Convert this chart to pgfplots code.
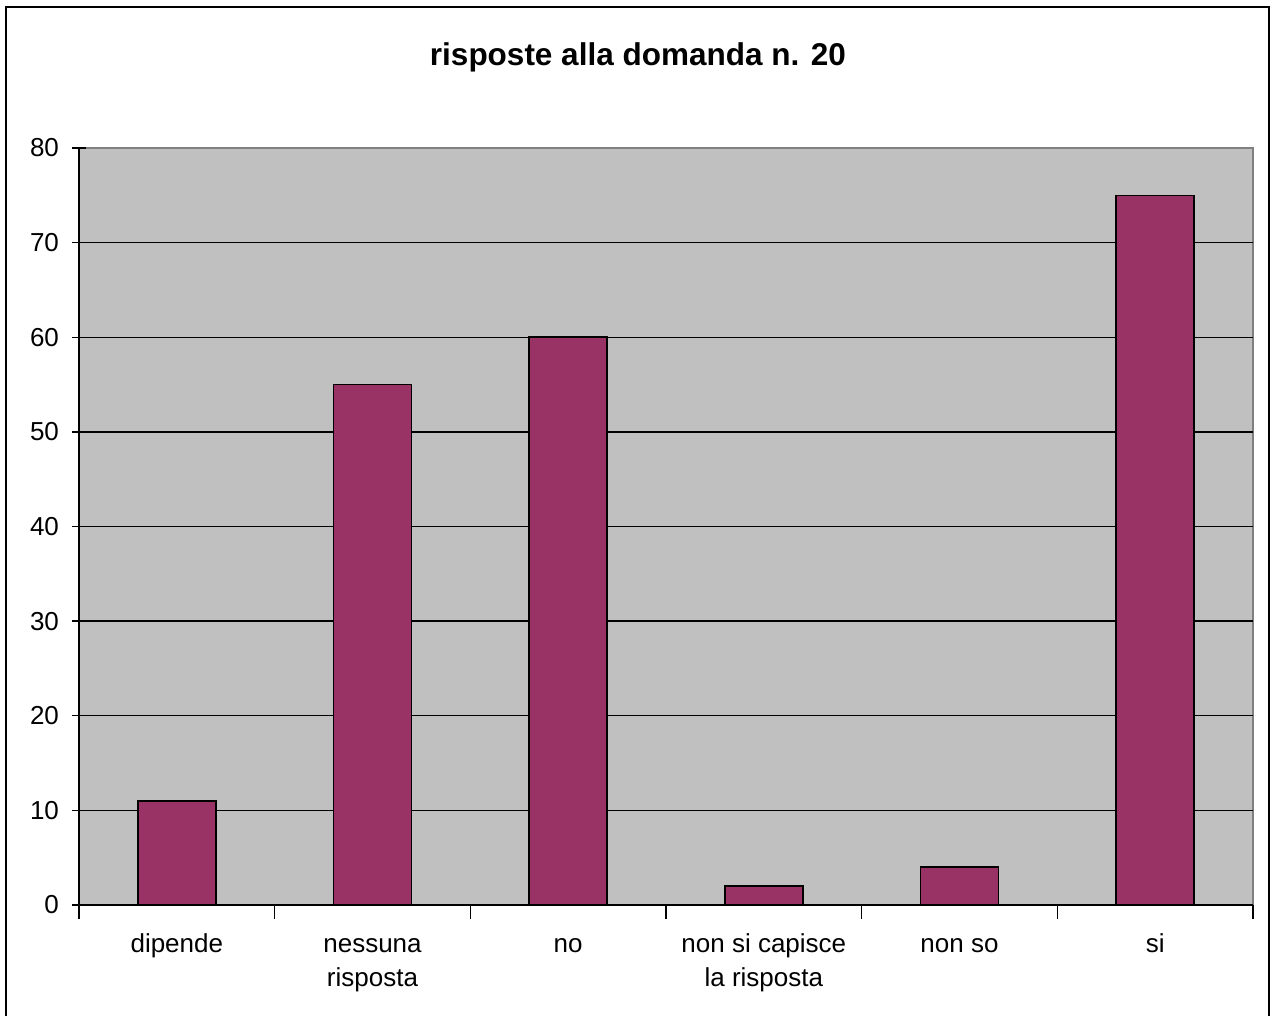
\documentclass[border=0pt]{standalone}
\usepackage{pgfplots}
\pgfplotsset{compat=1.18}
\usepackage{fontspec}
\setmainfont{Liberation Sans}
\definecolor{barc}{HTML}{993366}
\definecolor{bgc}{HTML}{C0C0C0}
\definecolor{frc}{HTML}{808080}
\begin{document}
\begin{tikzpicture}
\useasboundingbox (-39.5pt,-55.5pt) rectangle (596pt,452.5pt);
\draw[line width=1pt,black] (-36.5pt,-70pt) rectangle (595pt,449pt);
\begin{axis}[
  at={(0pt,0pt)}, anchor=south west,
  scale only axis, width=587pt, height=378.5pt,
  xmin=-0.5, xmax=5.5, ymin=0, ymax=80,
  axis x line*=bottom, axis y line*=left,
  axis line style={-, line width=0.8pt, black},
  axis background/.style={fill=bgc, draw=frc, line width=0.8pt},
  ytick={0,10,...,70},
  extra y ticks={80},
  extra y tick style={grid=none},
  ymajorgrids, major grid style={black, line width=0.75pt},
  xtick={0,1,2,3,4,5},
  xticklabels={\strut dipende, \strut nessuna\\\strut risposta, \strut no, \strut non si capisce\\\strut la risposta, \strut non so, \strut si},
  minor xtick={-0.5,0.5,...,5.5},
  tick align=center,
  major x tick style={draw=none},
  tick style={black, line width=0.75pt},
  major tick length=7pt, minor tick length=7pt,
  xticklabel style={font=\fontsize{13}{17}\selectfont, align=center, anchor=north, yshift=-1.5pt},
  yticklabel style={font=\fontsize{13}{15}\selectfont, xshift=-3pt},
  /pgf/number format/assume math mode=true,
  ybar, bar width=39pt,
]
\addplot[fill=barc, draw=black, line width=0.8pt] coordinates {(0,11) (1,55) (2,60) (3,2) (4,4) (5,75)};
\end{axis}
\node[font=\bfseries\fontsize{15.75}{18}\selectfont] at (279.5pt,424pt) {risposte alla domanda n. 20};
\end{tikzpicture}
\end{document}
